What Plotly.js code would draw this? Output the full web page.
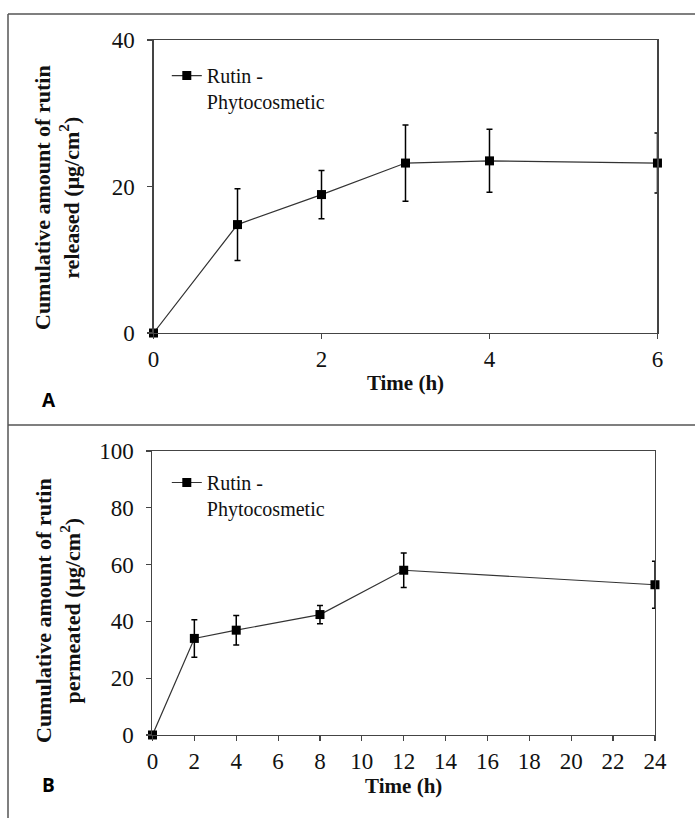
<!DOCTYPE html>
<html>
<head>
<meta charset="utf-8">
<script src="https://cdn.plot.ly/plotly-3.0.1.min.js"></script>
<style>html,body{margin:0;padding:0;background:#fff;}#chart{width:695px;height:818px;}</style>
</head>
<body>
<div id="chart"></div>
<script>
// Panel A: release
const timeA = [0, 1, 2, 3, 4, 6];
const releasedA = [0, 14.8, 18.9, 23.2, 23.5, 23.2];
const releasedErrA = [0, 4.9, 3.3, 5.2, 4.3, 4.1];
// Panel B: permeation
const timeB = [0, 2, 4, 8, 12, 24];
const permeatedB = [0, 34.0, 36.9, 42.4, 58.0, 52.9];
const permeatedErrB = [0, 6.6, 5.2, 3.2, 6.1, 8.3];
const seriesName = "Rutin -<br>Phytocosmetic";
const xTitle = "Time (h)";
const yTitleA = "Cumulative amount of rutin<br>released (μg/cm<sup>2</sup>)";
const yTitleB = "Cumulative amount of rutin<br>permeated (μg/cm<sup>2</sup>)";
const panelLabels = ["A", "B"];

const serif = "Liberation Serif";
const errStyle = {type: "data", visible: true, color: "#000", thickness: 1.5, width: 3};
const lineStyle = {color: "#333", width: 1.2};
const markerStyle = {symbol: "square", size: 9, color: "#000"};

const traces = [
  {x: timeA, y: releasedA, error_y: Object.assign({array: releasedErrA}, errStyle),
   mode: "lines+markers", name: seriesName, line: lineStyle, marker: markerStyle,
   xaxis: "x", yaxis: "y", legend: "legend", cliponaxis: false},
  {x: timeB, y: permeatedB, error_y: Object.assign({array: permeatedErrB}, errStyle),
   mode: "lines+markers", name: seriesName, line: lineStyle, marker: markerStyle,
   xaxis: "x2", yaxis: "y2", legend: "legend2", cliponaxis: false}
];

function axisBase() {
  return {
    showgrid: false, zeroline: false, showline: true, linecolor: "#444", linewidth: 1.2,
    mirror: true, ticks: "outside", ticklen: 5, tickcolor: "#444", tickwidth: 1.2,
    tickfont: {family: serif, size: 23, color: "#111"}, automargin: false, fixedrange: true
  };
}
const titleFont = {family: serif, size: 22, color: "#111", weight: "bold"};
const xTitleFont = {family: serif, size: 21, color: "#111", weight: "bold"};
const legendFont = {family: serif, size: 20, color: "#111"};
const labelFont = {family: "Open Sans", size: 19, color: "#000"};

const layout = {
  width: 695, height: 818,
  margin: {l: 0, r: 0, t: 0, b: 0},
  font: {family: serif, color: "#111"},
  paper_bgcolor: "#fff", plot_bgcolor: "#fff",
  showlegend: true,
  xaxis: Object.assign(axisBase(), {domain: [0.2209, 0.9460], range: [0, 6], dtick: 2, tick0: 0,
    anchor: "y", title: {text: "<b>" + xTitle + "</b>", font: xTitleFont, standoff: 4}}),
  yaxis: Object.assign(axisBase(), {domain: [0.5929, 0.9511], range: [0, 40], dtick: 20, tick0: 0,
    anchor: "x", ticklabelstandoff: 8}),
  xaxis2: Object.assign(axisBase(), {domain: [0.2194, 0.9424], range: [0, 24], dtick: 2, tick0: 0,
    anchor: "y2", title: {text: "<b>" + xTitle + "</b>", font: xTitleFont, standoff: 2}}),
  yaxis2: Object.assign(axisBase(), {domain: [0.1015, 0.4487], range: [0, 100], dtick: 20, tick0: 0,
    anchor: "x2", ticklabelstandoff: 8}),
  legend: {x: 0.240, y: 0.9315, xanchor: "left", yanchor: "top", valign: "top",
    bgcolor: "rgba(0,0,0,0)", font: legendFont, itemclick: false},
  legend2: {x: 0.240, y: 0.434, xanchor: "left", yanchor: "top", valign: "top",
    bgcolor: "rgba(0,0,0,0)", font: legendFont, itemclick: false},
  shapes: [
    {type: "line", xref: "paper", yref: "paper", x0: 8/695, x1: 1, y0: 1 - 14/818, y1: 1 - 14/818, line: {color: "#555", width: 1.5}},
    {type: "line", xref: "paper", yref: "paper", x0: 8/695, x1: 8/695, y0: 1 - 14/818, y1: 0, line: {color: "#555", width: 1.5}},
    {type: "line", xref: "paper", yref: "paper", x0: 8/695, x1: 1, y0: 1 - 425/818, y1: 1 - 425/818, line: {color: "#555", width: 1.5}}
  ],
  annotations: [
    {text: "<b>" + yTitleA + "</b>", xref: "paper", yref: "paper", x: 57/695, y: 1 - 198/818,
     xanchor: "center", yanchor: "middle", textangle: -90, showarrow: false, font: titleFont},
    {text: "<b>" + yTitleB + "</b>", xref: "paper", yref: "paper", x: 58/695, y: 1 - 611/818,
     xanchor: "center", yanchor: "middle", textangle: -90, showarrow: false, font: titleFont},
    {text: "<b>" + panelLabels[0] + "</b>", xref: "paper", yref: "paper", x: 40/695, y: 1 - 400/818,
     showarrow: false, font: labelFont},
    {text: "<b>" + panelLabels[1] + "</b>", xref: "paper", yref: "paper", x: 40/695, y: 1 - 800/818,
     showarrow: false, font: labelFont}
  ]
};

Plotly.newPlot("chart", traces, layout, {displayModeBar: false, staticPlot: true});
</script>
</body>
</html>
